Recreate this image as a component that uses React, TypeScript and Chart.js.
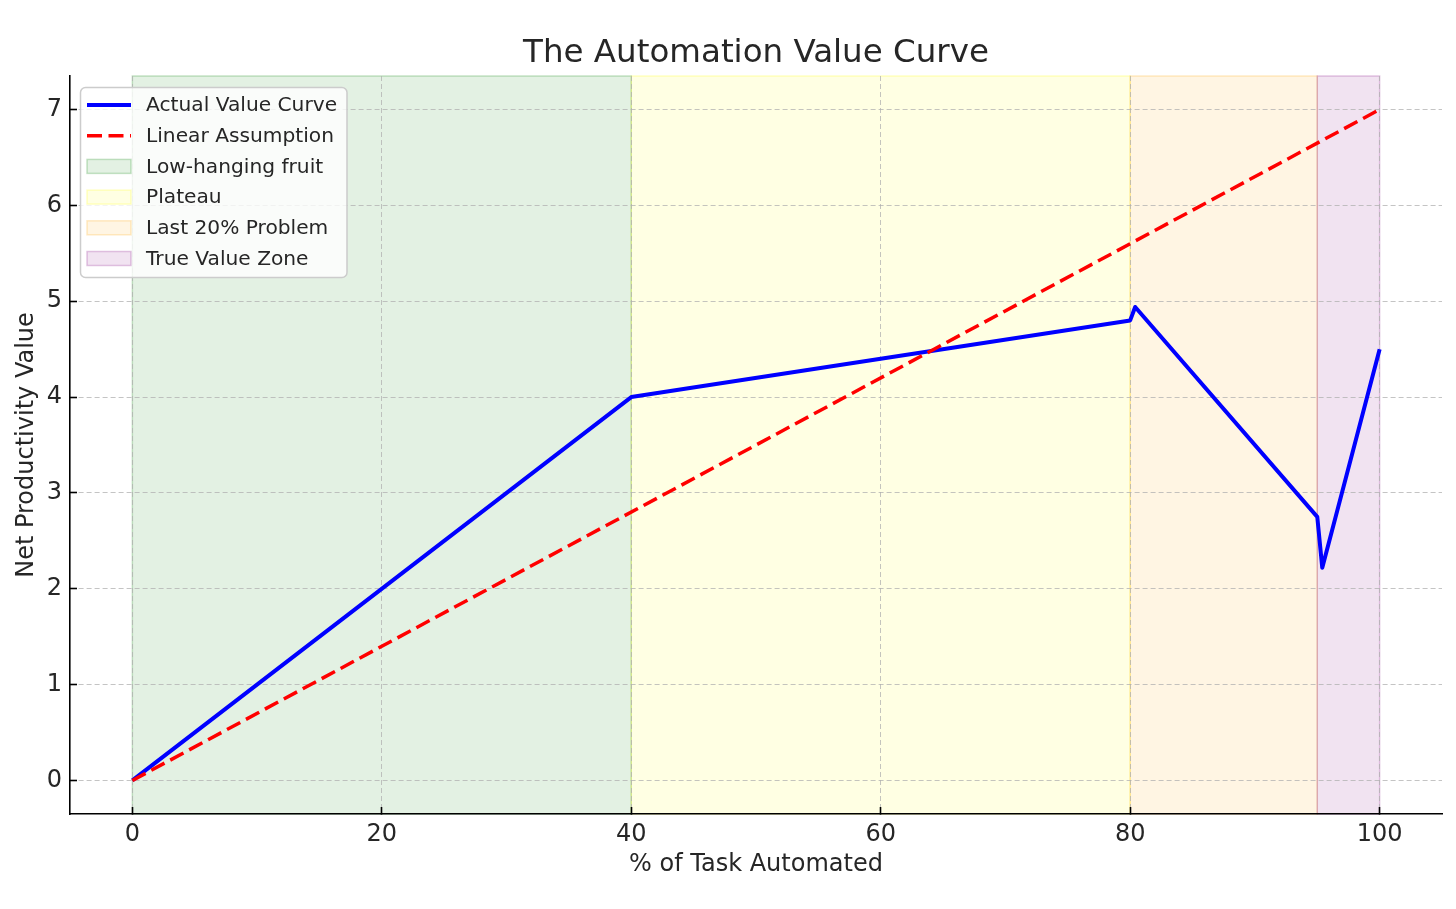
import React, { useEffect, useRef } from "react";
import { Chart, registerables } from "chart.js";

Chart.register(...registerables);

// ---- data ----
const actualX = [0, 40, 80, 80.4, 95, 95.4, 100];
const actualY = [0, 4, 4.8, 4.94, 2.75, 2.22, 4.5];
const linearX = [0, 100];
const linearY = [0, 7];
const xTicks = [0, 20, 40, 60, 80, 100];
const yTicks = [0, 1, 2, 3, 4, 5, 6, 7];
const zoneLabels = ["Low-hanging fruit", "Plateau", "Last 20% Problem", "True Value Zone"];
const zoneStarts = [0, 40, 80, 95];
const zoneEnds = [40, 80, 95, 100];

// ---- styles ----
const zoneRgb = ["0,128,0", "255,255,0", "255,165,0", "128,0,128"];
const FONT = "'DejaVu Sans', sans-serif";
const TEXT = "#262626";
const FILL_ALPHA = 0.11;
const EDGE_ALPHA = 0.22;

const zonesPlugin = {
  id: "zones",
  beforeDraw(chart: any) {
    const { ctx, chartArea, scales } = chart;
    const xs = scales.x;
    ctx.save();
    zoneStarts.forEach((s, i) => {
      const x1 = xs.getPixelForValue(s);
      const x2 = xs.getPixelForValue(zoneEnds[i]);
      ctx.fillStyle = `rgba(${zoneRgb[i]},${FILL_ALPHA})`;
      ctx.fillRect(x1, chartArea.top, x2 - x1, chartArea.bottom - chartArea.top);
      ctx.strokeStyle = `rgba(${zoneRgb[i]},${EDGE_ALPHA})`;
      ctx.lineWidth = 1.5;
      ctx.strokeRect(x1, chartArea.top, x2 - x1, chartArea.bottom - chartArea.top);
    });
    ctx.restore();
  },
};

const titlePlugin = {
  id: "customTitle",
  afterDraw(chart: any) {
    const { ctx, chartArea } = chart;
    ctx.save();
    ctx.fillStyle = TEXT;
    ctx.font = `32.5px ${FONT}`;
    ctx.textAlign = "center";
    ctx.textBaseline = "middle";
    ctx.fillText("The Automation Value Curve", (chartArea.left + chartArea.right) / 2, 54);
    ctx.restore();
  },
};

const legendPlugin = {
  id: "customLegend",
  afterDatasetsDraw(chart: any) {
    const { ctx, chartArea } = chart;
    const bx = chartArea.left + 10.5;
    const by = chartArea.top + 11.5;
    const bw = 266.5;
    const bh = 190;
    ctx.save();
    ctx.beginPath();
    (ctx as any).roundRect(bx, by, bw, bh, 5);
    ctx.fillStyle = "rgba(255,255,255,0.8)";
    ctx.fill();
    ctx.strokeStyle = "#cccccc";
    ctx.lineWidth = 1.5;
    ctx.stroke();

    const hx1 = bx + 6.5;
    const hx2 = bx + 50.5;
    const tx = bx + 65.5;
    const row0 = by + 17.5;
    const step = 30.7;
    ctx.font = `20.2px ${FONT}`;
    ctx.textBaseline = "middle";
    ctx.textAlign = "left";

    const ds = chart.data.datasets;
    const items: any[] = [
      { kind: "line", label: ds[0].label, color: ds[0].borderColor, width: ds[0].borderWidth, dash: [] },
      { kind: "line", label: ds[1].label, color: ds[1].borderColor, width: ds[1].borderWidth, dash: ds[1].borderDash },
      ...zoneLabels.map((l, i) => ({ kind: "patch", label: l, rgb: zoneRgb[i] })),
    ];
    items.forEach((it, i) => {
      const cy = row0 + i * step;
      if (it.kind === "line") {
        ctx.beginPath();
        ctx.setLineDash(it.dash);
        ctx.strokeStyle = it.color;
        ctx.lineWidth = it.width;
        ctx.moveTo(hx1, cy);
        ctx.lineTo(hx2, cy);
        ctx.stroke();
        ctx.setLineDash([]);
      } else {
        ctx.fillStyle = `rgba(${it.rgb},${FILL_ALPHA})`;
        ctx.fillRect(hx1, cy - 7, hx2 - hx1, 14);
        ctx.strokeStyle = `rgba(${it.rgb},${EDGE_ALPHA})`;
        ctx.lineWidth = 1.5;
        ctx.strokeRect(hx1, cy - 7, hx2 - hx1, 14);
      }
      ctx.fillStyle = TEXT;
      ctx.fillText(it.label, tx, cy + 1);
    });
    ctx.restore();
  },
};

export default function App() {
  const canvasRef = useRef<HTMLCanvasElement | null>(null);

  useEffect(() => {
    const canvas = canvasRef.current;
    if (!canvas) return;
    const chart = new Chart(canvas, {
      type: "line",
      data: {
        datasets: [
          {
            label: "Actual Value Curve",
            data: actualX.map((x, i) => ({ x, y: actualY[i] })),
            borderColor: "#0000ff",
            backgroundColor: "#0000ff",
            borderWidth: 4,
            borderJoinStyle: "round",
            pointRadius: 0,
            tension: 0,
            fill: false,
            order: 1,
          },
          {
            label: "Linear Assumption",
            data: linearX.map((x, i) => ({ x, y: linearY[i] })),
            borderColor: "#ff0000",
            backgroundColor: "#ff0000",
            borderWidth: 3.5,
            borderDash: [15, 6.5],
            pointRadius: 0,
            tension: 0,
            fill: false,
            order: 0,
          },
        ],
      },
      options: {
        animation: false,
        responsive: false,
        devicePixelRatio: 1,
        layout: { padding: { left: 0, right: 14, top: 76, bottom: 0 } },
        plugins: {
          legend: { display: false },
          title: { display: false },
          tooltip: { enabled: false },
        },
        scales: {
          x: {
            type: "linear",
            min: -5,
            max: 105,
            afterBuildTicks: (s: any) => {
              s.ticks = xTicks.map((v) => ({ value: v }));
            },
            afterFit: (s: any) => {
              s.height = 95;
            },
            grid: {
              color: "rgba(176,176,176,0.75)",
              lineWidth: 1,
              drawTicks: true,
              tickLength: -7,
              tickColor: "#000000",
              tickWidth: 1.6,
            },
            border: { display: true, color: "#000000", width: 1.6, dash: [5, 3] },
            ticks: {
              color: TEXT,
              font: { family: FONT, size: 24 },
              padding: 13,
              maxRotation: 0,
              autoSkip: false,
            },
            title: {
              display: true,
              text: "% of Task Automated",
              color: TEXT,
              font: { family: FONT, size: 24 },
              padding: { top: 0, bottom: 29.6 },
            },
          },
          y: {
            type: "linear",
            min: -0.35,
            max: 7.35,
            afterBuildTicks: (s: any) => {
              s.ticks = yTicks.map((v) => ({ value: v }));
            },
            afterFit: (s: any) => {
              s.width = 70;
            },
            grid: {
              color: "rgba(176,176,176,0.75)",
              lineWidth: 1,
              drawTicks: true,
              tickLength: -7,
              tickColor: "#000000",
              tickWidth: 1.6,
            },
            border: { display: true, color: "#000000", width: 1.6, dash: [5, 3] },
            ticks: {
              color: TEXT,
              font: { family: FONT, size: 24 },
              padding: 15,
              autoSkip: false,
            },
            title: {
              display: true,
              text: "Net Productivity Value",
              color: TEXT,
              font: { family: FONT, size: 24 },
              padding: { top: 12, bottom: 0 },
            },
          },
        },
      },
      plugins: [zonesPlugin, titlePlugin, legendPlugin],
    } as any);
    return () => chart.destroy();
  }, []);

  return (
    <div style={{ position: "absolute", left: 0, top: 0, width: 1456, height: 909, background: "#ffffff" }}>
      <canvas ref={canvasRef} width={1456} height={909} style={{ display: "block" }} />
    </div>
  );
}
